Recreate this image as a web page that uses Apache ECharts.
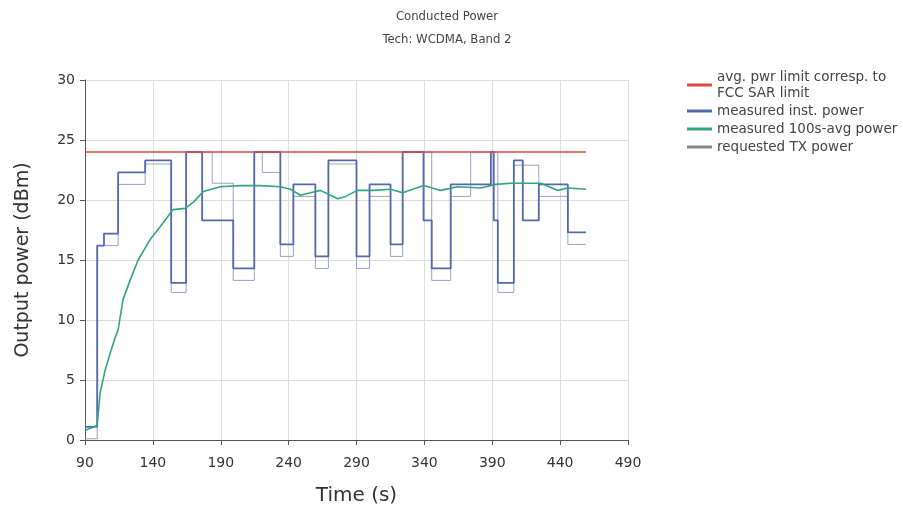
<!DOCTYPE html>
<html>
<head>
<meta charset="utf-8">
<script src="https://cdn.jsdelivr.net/npm/echarts@6/dist/echarts.min.js"></script>
<style>
  html, body { margin: 0; padding: 0; background: #ffffff; }
  #chart { width: 903px; height: 512px; }
</style>
</head>
<body>
<div id="chart"></div>
<script>
// Axis ticks
const xTicks = [90, 140, 190, 240, 290, 340, 390, 440, 490];
const yTicks = [0, 5, 10, 15, 20, 25, 30];

// Average power limit corresponding to the FCC SAR limit (dBm) and its time span (s)
const limitLevel = 24.0;
const limitSpan = [90, 459];

// Measured instantaneous power: [time (s), dBm], value holds until the next point
const instPower = [
  [90, 1.1], [99, 16.2], [104, 17.2], [114.4, 22.3], [134.3, 23.3], [153.5, 13.1],
  [164.5, 24.0], [176.3, 18.3], [199.2, 14.3], [214.7, 24.0], [233.9, 16.3],
  [243.5, 21.3], [259.7, 15.3], [269.3, 23.3], [290, 15.3], [299.6, 21.3],
  [315.1, 16.3], [324, 24.0], [339.4, 18.3], [345.4, 14.3], [359.4, 21.3],
  [389, 24.0], [391.1, 18.3], [394.1, 13.1], [405.9, 23.3], [412.5, 18.3],
  [424.3, 21.3], [445.7, 17.3], [459, 17.3]
];

// Requested TX power: [time (s), dBm]
const requestedPower = [
  [90, 0.1], [99, 16.2], [114.4, 21.3], [134.3, 23.0], [153.5, 12.3],
  [164.5, 24.0], [183.7, 21.4], [199.2, 13.3], [214.7, 24.0], [220.6, 22.3],
  [233.9, 15.3], [243.5, 20.3], [259.7, 14.3], [269.3, 23.0], [290, 14.3],
  [299.6, 20.3], [315.1, 15.3], [324, 24.0], [345.4, 13.3], [359.4, 20.3],
  [374.1, 24.0], [394.1, 12.3], [405.9, 22.9], [424.3, 20.3], [445.7, 16.3],
  [459, 16.3]
];

// Measured 100 s running average power: [time (s), dBm]
const avgPower = [
  [90, 0.8], [98.9, 1.2], [101.1, 3.9], [104.8, 5.8], [108.5, 7.2], [112.1, 8.5],
  [114.4, 9.2], [118, 11.7], [123.2, 13.3], [129.1, 15.0], [138, 16.7],
  [147.6, 18.1], [154.9, 19.2], [163.8, 19.3], [169.7, 19.8], [177.1, 20.7],
  [189.6, 21.1], [204.4, 21.2], [219.2, 21.2], [233.9, 21.1], [241.3, 20.9],
  [248.7, 20.4], [256.1, 20.6], [263.4, 20.8], [270.8, 20.4], [276, 20.1],
  [281.9, 20.3], [290.7, 20.8], [302.5, 20.8], [315.1, 20.9], [324, 20.6],
  [339.4, 21.2], [352, 20.8], [364.5, 21.1], [381.5, 21.0], [392.6, 21.3],
  [403.7, 21.4], [425.8, 21.4], [438.3, 20.8], [445.7, 21.0], [459, 20.9]
];

const limitLine = limitSpan.map(t => [t, limitLevel]);

const FONT = 'DejaVu Sans';
const TITLE_FONT = "'DejaVu Sans Condensed', 'Liberation Sans', sans-serif";
const chart = echarts.init(document.getElementById('chart'), null, { renderer: 'canvas' });

chart.setOption({
  animation: false,
  backgroundColor: '#ffffff',
  title: {
    text: 'Conducted Power\nTech: WCDMA, Band 2',
    left: 447,
    textAlign: 'center',
    top: 5,
    padding: 0,
    textStyle: { fontFamily: TITLE_FONT, fontSize: 13, fontWeight: 'normal', color: '#444444', lineHeight: 23 }
  },
  legend: {
    orient: 'vertical',
    left: 687,
    top: 69,
    padding: 0,
    itemWidth: 25,
    itemHeight: 3,
    itemGap: 2,
    icon: 'rect',
    textStyle: { fontFamily: FONT, fontSize: 13.5, color: '#444444', lineHeight: 16 },
    data: [
      { name: 'avg. pwr limit corresp. to\nFCC SAR limit' },
      { name: 'measured inst. power' },
      { name: 'measured 100s-avg power' },
      { name: 'requested TX power', itemStyle: { color: '#888888' } }
    ]
  },
  grid: { left: 85, right: 275, top: 80, bottom: 72, containLabel: false },
  xAxis: {
    type: 'value',
    min: xTicks[0],
    max: xTicks[xTicks.length - 1],
    interval: xTicks[1] - xTicks[0],
    name: 'Time (s)',
    nameLocation: 'middle',
    nameGap: 46,
    nameTextStyle: { fontFamily: FONT, fontSize: 20, color: '#333333' },
    axisLine: { show: true, lineStyle: { color: '#555555', width: 1 } },
    axisTick: { show: true, length: 5, lineStyle: { color: '#555555' } },
    axisLabel: { fontFamily: FONT, fontSize: 14, color: '#333333', margin: 16 },
    splitLine: { show: true, lineStyle: { color: '#dddddd', width: 1 } }
  },
  yAxis: {
    type: 'value',
    min: yTicks[0],
    max: yTicks[yTicks.length - 1],
    interval: yTicks[1] - yTicks[0],
    name: 'Output power (dBm)',
    nameLocation: 'middle',
    nameGap: 52,
    nameTextStyle: { fontFamily: FONT, fontSize: 19, color: '#333333' },
    axisLine: { show: true, lineStyle: { color: '#555555', width: 1 } },
    axisTick: { show: true, length: 5, lineStyle: { color: '#555555' } },
    axisLabel: { fontFamily: FONT, fontSize: 14, color: '#333333', margin: 10 },
    splitLine: { show: true, lineStyle: { color: '#dddddd', width: 1 } }
  },
  series: [
    {
      name: 'avg. pwr limit corresp. to\nFCC SAR limit',
      type: 'line',
      data: limitLine,
      showSymbol: false,
      color: '#e5473f',
      lineStyle: { width: 1.5, color: '#e5473f' },
      z: 4
    },
    {
      name: 'measured inst. power',
      type: 'line',
      step: 'end',
      data: instPower,
      showSymbol: false,
      color: '#5468b2',
      lineStyle: { width: 1.8, color: '#5468b2' },
      z: 3
    },
    {
      name: 'measured 100s-avg power',
      type: 'line',
      data: avgPower,
      showSymbol: false,
      color: '#2ea77b',
      lineStyle: { width: 1.6, color: '#2ea77b' },
      z: 5
    },
    {
      name: 'requested TX power',
      type: 'line',
      step: 'end',
      data: requestedPower,
      showSymbol: false,
      color: '#9aa1c2',
      lineStyle: { width: 1, color: '#9aa1c2' },
      z: 2
    }
  ]
});
</script>
</body>
</html>
